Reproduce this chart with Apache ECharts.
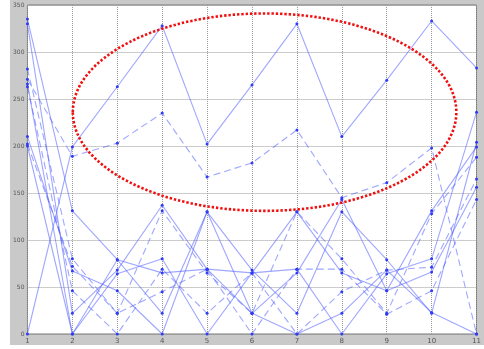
<!DOCTYPE html>
<html>
<head>
<meta charset="utf-8">
<script src="https://cdn.jsdelivr.net/npm/echarts@6/dist/echarts.min.js"></script>
<style>
  html, body { margin: 0; padding: 0; background: #fff; }
  #chart { position: absolute; left: 10px; top: 0; width: 474px; height: 345px; background: #c9c9c9; }
</style>
</head>
<body>
<div id="chart"></div>
<script>
// x positions
const xValues = [1, 2, 3, 4, 5, 6, 7, 8, 9, 10, 11];

// upper pair (inside the red ellipse)
const upperSolid  = [0, 199, 263, 328, 202, 265, 330, 210, 270, 333, 283];
const upperDashed = [271, 189, 203, 235, 167, 182, 217, 145, 161, 198, 0];

// lower tangle
const low1 = [335, 131, 79, 22, 130, 68, 22, 130, 79, 22, 204];
const low2 = [330, 22, 68, 137, 69, 65, 130, 65, 46, 131, 199];
const low3 = [282, 80, 22, 131, 65, 22, 130, 80, 22, 128, 188];
const low4 = [266, 0, 64, 80, 0, 65, 69, 0, 64, 80, 236];
const low5 = [263, 46, 0, 69, 22, 65, 0, 45, 68, 71, 165];
const low6 = [210, 67, 46, 0, 130, 22, 65, 143, 46, 66, 156];
const low7 = [202, 72, 22, 45, 69, 0, 69, 69, 21, 46, 143];
const low8 = [200, 0, 79, 65, 69, 22, 0, 22, 68, 23, 0];

const lineDefs = [
  { data: upperSolid, dashed: false },
  { data: upperDashed, dashed: true },
  { data: low1, dashed: false },
  { data: low2, dashed: false },
  { data: low3, dashed: true },
  { data: low4, dashed: false },
  { data: low5, dashed: true },
  { data: low6, dashed: false },
  { data: low7, dashed: true },
  { data: low8, dashed: false },
];

// y axis ticks
const yMin = 0, yMax = 350, yStep = 50;

// red highlight ellipse, in data units
const ellipseCenter = [6.28, 236];
const ellipseRadii = [4.27, 105];

const chart = echarts.init(document.getElementById("chart"));

const gridLine = { show: true, lineStyle: { color: "#999", type: [1, 1], width: 1 } };

const option = {
  animation: false,
  backgroundColor: "transparent",
  grid: {
    left: 14, right: 2, top: 5, bottom: 11,
    show: true,
    backgroundColor: "#fff",
    borderColor: "#777",
    borderWidth: 1,
  },
  xAxis: {
    type: "value",
    min: 1, max: 11, interval: 1,
    axisLine: { show: false },
    axisTick: { show: false },
    axisLabel: { color: "#555", fontSize: 7, margin: 4, fontFamily: "DejaVu Sans" },
    splitLine: gridLine,
  },
  yAxis: {
    type: "value",
    min: yMin, max: yMax, interval: yStep,
    axisLine: { show: false },
    axisTick: { show: false },
    axisLabel: { color: "#555", fontSize: 6, margin: 3, fontFamily: "DejaVu Sans" },
    splitLine: gridLine,
  },
  series: lineDefs.map((d) => ({
    type: "line",
    data: d.data.map((v, i) => [xValues[i], v]),
    symbol: "circle",
    symbolSize: 3,
    itemStyle: { color: "#2f3cf2" },
    lineStyle: {
      color: "rgba(80, 95, 255, 0.55)",
      width: 1.1,
      type: d.dashed ? [7, 4] : "solid",
    },
    emphasis: { disabled: true },
  })),
};

chart.setOption(option);

// draw the ellipse from data coordinates
const c = chart.convertToPixel({ gridIndex: 0 }, ellipseCenter);
const e = chart.convertToPixel({ gridIndex: 0 }, [ellipseCenter[0] + ellipseRadii[0], ellipseCenter[1] - ellipseRadii[1]]);
chart.setOption({
  graphic: [{
    type: "ellipse",
    shape: { cx: c[0], cy: c[1], rx: e[0] - c[0], ry: e[1] - c[1] },
    style: { fill: null, stroke: "#f01010", lineWidth: 2.6, lineDash: [2.4, 1.9] },
    z: 100,
  }],
});
</script>
</body>
</html>
